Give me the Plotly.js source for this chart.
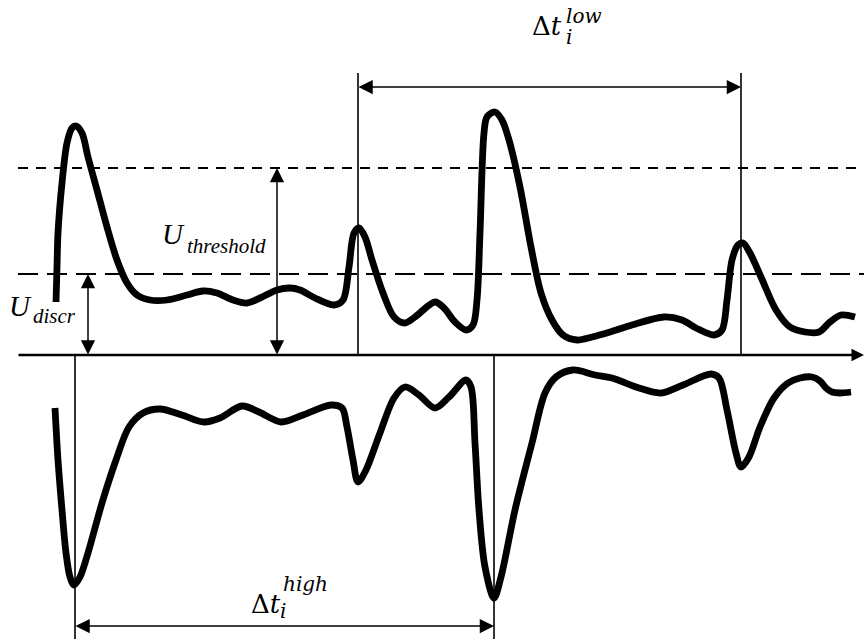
<!DOCTYPE html>
<html>
<head>
<meta charset="utf-8">
<script src="https://cdn.plot.ly/plotly-3.0.1.min.js"></script>
<style>html,body{margin:0;padding:0;background:#fff;}#chart{width:864px;height:639px;}</style>
</head>
<body>
<div id="chart"></div>
<script>
// time (horizontal units) and voltage (vertical units, 0 = time axis)
const timeUpper = [56,57,58,62,67,72,76,82,88,97,107,117,127,137,150,167,187,203,217,233,247,260,277,290,300,315,334,343,349,354,359,365,372,383,394,405,415,435,444,455,466,473,477,480,484,487,495,502,509,520,531,541,552,563,577,592,610,632,664,682,696,714,722,727,732,738,743,750,761,776,790,805,819,830,841,855];
const voltUpper = [53,88,122,172,212,227,229,222,198,165,128,95,72,60,55,55,60,64,62,55,52,57,65,67,65,57,50,55,88,122,127,118,95,62,38,32,38,53,47,33,25,30,55,122,222,238,243,235,215,168,108,62,35,20,15,18,23,30,38,35,27,20,25,55,95,110,112,102,78,45,28,23,23,33,40,38];
const timeLower = [55,58,62,66,70,74,80,88,102,116,129,143,160,182,204,220,242,259,281,303,331,342,347,353,358,366,380,394,405,419,435,449,466,471,475,479,485,494,501,515,532,545,556,573,595,612,639,661,683,711,719,727,736,741,749,760,774,788,800,812,820,826,832,840,851];
const voltLower = [-53,-105,-155,-198,-222,-230,-222,-198,-148,-105,-72,-58,-54,-60,-67,-63,-51,-57,-67,-60,-50,-53,-72,-105,-127,-115,-78,-43,-32,-40,-53,-42,-25,-32,-88,-155,-212,-243,-222,-155,-88,-38,-22,-15,-20,-23,-33,-38,-30,-19,-23,-55,-98,-112,-102,-72,-43,-28,-23,-22,-26,-33,-37,-38,-37];
const levelNames = ['threshold', 'discr'];
const levelValues = [187, 81];
const lowTimes = [358, 741];
const highTimes = [75, 494];

const X0 = 0, X1 = 864, YMIN = -284, YMAX = 355;
const LINE_START = 18;
const traces = [];

// dashed level lines
traces.push({x:[LINE_START, X1], y:[levelValues[0], levelValues[0]], mode:'lines',
  line:{color:'#000', width:2.2, dash:'10px,8px'}, hoverinfo:'skip'});
traces.push({x:[LINE_START, X1], y:[levelValues[1], levelValues[1]], mode:'lines',
  line:{color:'#000', width:2.2, dash:'20px,9px'}, hoverinfo:'skip'});

// vertical markers
lowTimes.forEach(t => traces.push({x:[t,t], y:[0, 282], mode:'lines', line:{color:'#000', width:1.6}, hoverinfo:'skip'}));
highTimes.forEach(t => traces.push({x:[t,t], y:[0, YMIN], mode:'lines', line:{color:'#000', width:1.6}, hoverinfo:'skip'}));

// signals
traces.push({x:timeUpper, y:voltUpper, mode:'lines', line:{color:'#000', width:6.8, shape:'spline', smoothing:0.9}, hoverinfo:'skip'});
traces.push({x:timeLower, y:voltLower, mode:'lines', line:{color:'#000', width:6.8, shape:'spline', smoothing:0.9}, hoverinfo:'skip'});

function arrow(x, y, ax, ay, both, w, size) {
  return {x:x, y:y, ax:ax, ay:ay, xref:'x', yref:'y', axref:'x', ayref:'y', text:'',
    showarrow:true, arrowhead:2, startarrowhead:2, arrowside: both ? 'end+start' : 'end',
    arrowwidth:w, arrowsize:size, startarrowsize:size, arrowcolor:'#000', standoff:0, startstandoff:0, borderpad:0};
}
function label(text, x, y, family, size) {
  return {x:x, y:y, xref:'x', yref:'y', text:text, showarrow:false, xanchor:'left', yanchor:'middle',
    font:{family:family, size:size, color:'#000'}, borderpad:0};
}
const SERIF = 'Liberation Serif';
const MATH = 'DejaVu Serif';

const annotations = [
  arrow(X1, 0, LINE_START, 0, false, 2.5, 1),
  arrow(lowTimes[1], 268, lowTimes[0], 268, true, 1.5, 1.9),
  arrow(highTimes[1], -271, highTimes[0], -271, true, 1.5, 1.9),
  arrow(88, levelValues[1], 88, 0, true, 1.5, 1.9),
  arrow(277, levelValues[0], 277, 0, true, 1.5, 1.9),
  label('<i>U</i>', 161, 121.5, SERIF, 29),
  label('<i>' + levelNames[0] + '</i>', 186, 109, SERIF, 21),
  label('<i>U</i>', 8, 49.5, SERIF, 29),
  label('<i>' + levelNames[1] + '</i>', 32, 39, SERIF, 21),
  label('Δ<i>t</i>', 531, 329, MATH, 26),
  label('<i>low</i>', 565, 339.5, MATH, 20),
  label('<i>i</i>', 565, 318, MATH, 20),
  label('Δ<i>t</i>', 250, -249, MATH, 26),
  label('<i>high</i>', 282, -229, MATH, 20),
  label('<i>i</i>', 279, -256, MATH, 20)
];

const layout = {
  width:864, height:639,
  margin:{l:0, r:0, t:0, b:0, pad:0},
  paper_bgcolor:'#fff', plot_bgcolor:'#fff',
  showlegend:false,
  xaxis:{range:[X0, X1], visible:false, fixedrange:true},
  yaxis:{range:[YMIN, YMAX], visible:false, fixedrange:true},
  annotations:annotations
};
Plotly.newPlot('chart', traces, layout, {staticPlot:true, displayModeBar:false});
</script>
</body>
</html>
